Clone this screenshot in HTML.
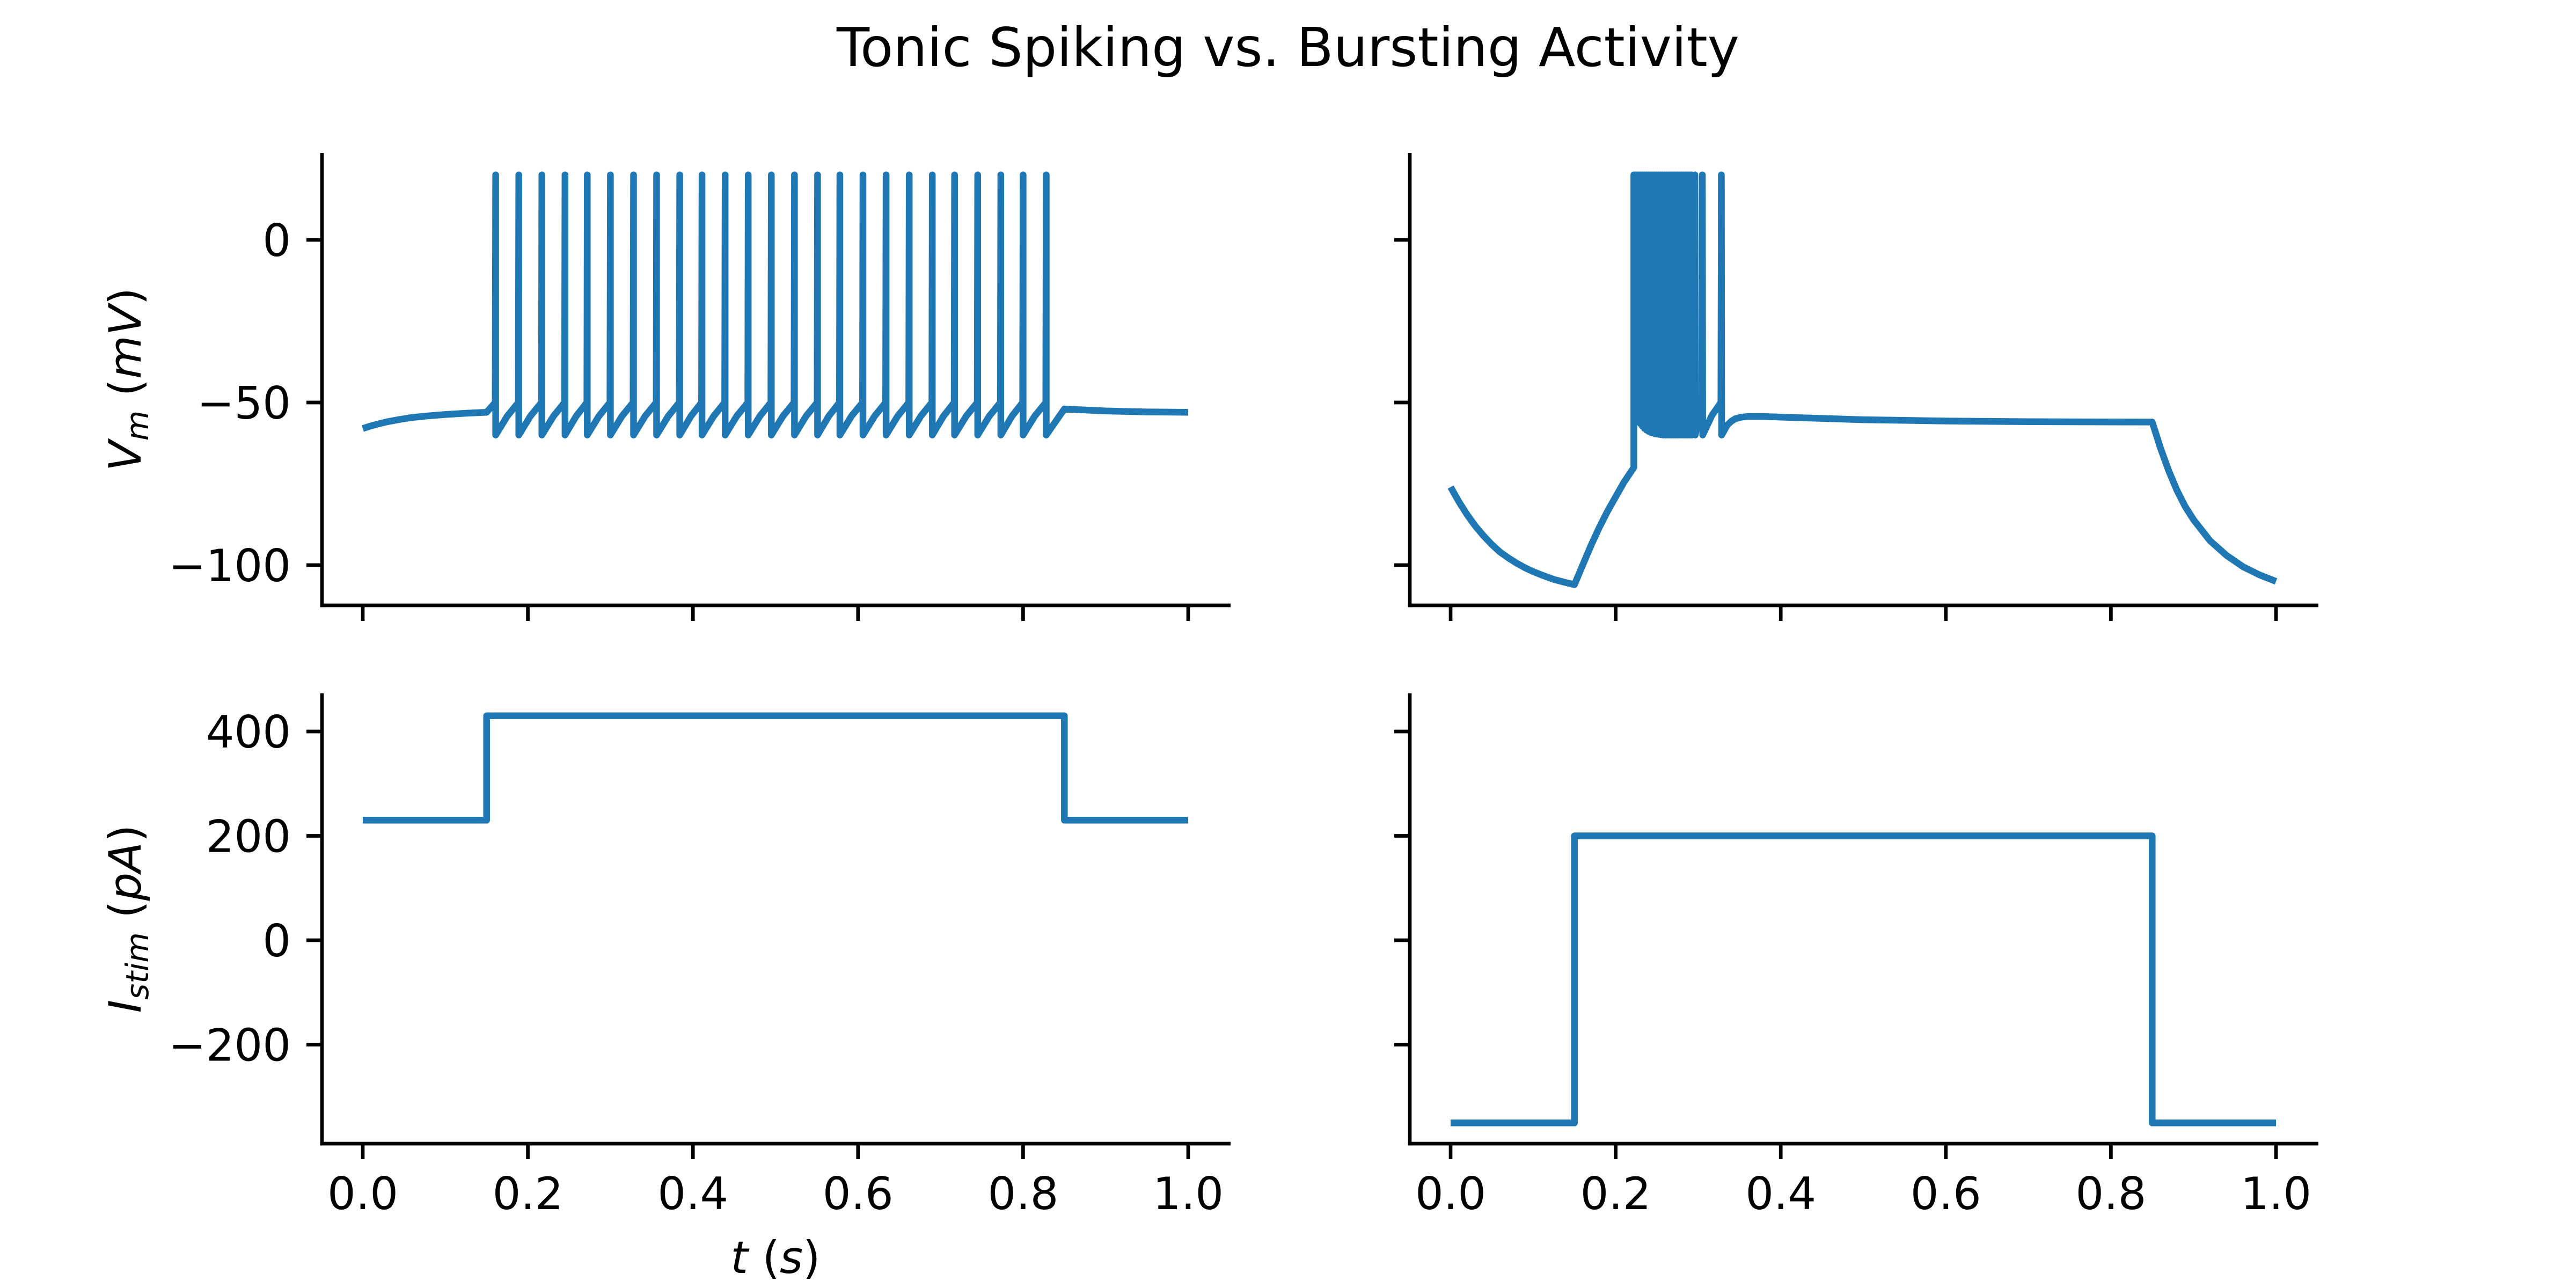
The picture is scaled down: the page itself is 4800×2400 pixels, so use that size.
<!DOCTYPE html>
<html><head><meta charset="utf-8"><style>
html,body{margin:0;padding:0;background:#fff}
svg{display:block}
text{font-family:"DejaVu Sans","Liberation Sans",sans-serif;fill:#000}
</style></head><body>
<svg id="fig" xmlns="http://www.w3.org/2000/svg" width="4800" height="2400" viewBox="0 0 4800 2400">
<rect width="4800" height="2400" fill="#fff"/>
<text x="2400" y="123" font-size="100" text-anchor="middle">Tonic Spiking vs. Bursting Activity</text>
<text transform="translate(262,707) rotate(-90)" font-size="83" text-anchor="middle"><tspan font-style="italic">V</tspan><tspan font-style="italic" font-size="58" dy="14">m</tspan><tspan dy="-14"> (</tspan><tspan font-style="italic">mV</tspan>)</text>
<text transform="translate(262,1712) rotate(-90)" font-size="83" text-anchor="middle"><tspan font-style="italic">I</tspan><tspan font-style="italic" font-size="58" dy="14">stim</tspan><tspan dy="-14"> (</tspan><tspan font-style="italic">pA</tspan>)</text>
<text x="1445" y="2372" font-size="83" text-anchor="middle"><tspan font-style="italic">t</tspan> (<tspan font-style="italic">s</tspan>)</text>
</svg>
<script>
// ---- data ----
const xTicks = [0.0, 0.2, 0.4, 0.6, 0.8, 1.0];
const xTickLabels = ["0.0", "0.2", "0.4", "0.6", "0.8", "1.0"];
const vmTicks = [0, -50, -100];
const vmTickLabels = ["0", "\u221250", "\u2212100"];
const iTicks = [400, 200, 0, -200];
const iTickLabels = ["400", "200", "0", "\u2212200"];
// tonic spiking neuron
const tonicBaseT = [0, 0.01, 0.02, 0.03, 0.045, 0.06, 0.08, 0.1, 0.125, 0.15];
const tonicBaseV = [-58, -57.2, -56.5, -55.9, -55.2, -54.6, -54.1, -53.7, -53.3, -53];
const tonicSpikes = [0.161,0.189,0.217,0.245,0.272,0.300,0.328,0.356,0.384,0.411,0.439,0.467,0.495,0.523,0.551,0.578,0.606,0.634,0.662,0.690,0.717,0.745,0.773,0.800,0.828];
const tonicTailT = [0.85, 0.9, 0.95, 1.0];
const tonicTailV = [-52, -52.6, -52.9, -53];
const spikePeak = 20, spikeReset = -60, spikeThresh = -50;
// bursting neuron
const burstPreT = [0, 0.01, 0.02, 0.03, 0.04, 0.05, 0.06, 0.07, 0.08, 0.09, 0.1, 0.11, 0.125, 0.14, 0.15, 0.155, 0.16, 0.17, 0.18, 0.19, 0.2, 0.21, 0.222];
const burstPreV = [-76, -80.5, -84.5, -88, -91, -93.7, -96, -97.8, -99.4, -100.8, -102, -103, -104.4, -105.4, -106, -103, -100, -94, -88.5, -83.5, -79, -74.5, -70];
const burstSpikes = [0.222,0.2245,0.227,0.2295,0.232,0.2345,0.237,0.2395,0.242,0.2445,0.247,0.2495,0.252,0.2545,0.257,0.2595,0.262,0.2645,0.267,0.2695,0.272,0.2745,0.277,0.2795,0.282,0.2845,0.287,0.2895,0.292,0.296,0.305,0.328];
const burstTroughs = [-52,-54,-55.5,-56.5,-57.3,-58,-58.5,-58.9,-59.2,-59.4,-59.6,-59.7,-59.8,-59.9,-60,-60,-60,-60,-60,-60,-60,-60,-60,-60,-60,-60,-60,-60,-60,-60,-60,-60];
const burstPostT = [0.335, 0.34, 0.345, 0.352, 0.36, 0.38, 0.4, 0.5, 0.6, 0.7, 0.85, 0.86, 0.87, 0.88, 0.89, 0.9, 0.92, 0.94, 0.96, 0.98, 1.0];
const burstPostV = [-57, -55.8, -55, -54.5, -54.3, -54.3, -54.5, -55.3, -55.7, -55.9, -56, -64, -71, -77, -82, -86, -92.5, -97, -100.5, -103, -105];
// stimulus currents
const tonicStimT = [0, 0.15, 0.15, 0.85, 0.85, 1.0];
const tonicStimI = [230, 230, 430, 430, 230, 230];
const burstStimT = [0, 0.15, 0.15, 0.85, 0.85, 1.0];
const burstStimI = [-350, -350, 200, 200, -350, -350];

// ---- layout ----
const NS = "http://www.w3.org/2000/svg";
const fig = document.getElementById("fig");
const cols = [{x0: 600, px0: 676}, {x0: 2627, px0: 2703}];
const pxPerS = 1538;
const rows = [
  {top: 285, bot: 1128, y0: 447, k: 6.06},
  {top: 1292, bot: 2131, y0: 1752, k: 0.9725}
];
const COLOR = "#1f77b4";
function xs(c, t) { return cols[c].px0 + t * pxPerS; }
function ys(r, v) { return rows[r].y0 - v * rows[r].k; }
function mk(tag, attrs, parent) {
  const e = document.createElementNS(NS, tag);
  for (const k in attrs) e.setAttribute(k, attrs[k]);
  (parent || fig).appendChild(e);
  return e;
}

function drawAxes(c, r, name) {
  const g = mk("g", {});
  
  
  const x0 = cols[c].x0, x1 = x0 + 1693, top = rows[r].top, bot = rows[r].bot;
  const ls = mk("line", {x1: x0, y1: top, x2: x0, y2: bot + 3.3, stroke: "#000", "stroke-width": 6.7}, g);
  
  
  const bs = mk("line", {x1: x0 - 3.3, y1: bot, x2: x1, y2: bot, stroke: "#000", "stroke-width": 6.7}, g);
  
  
  xTicks.forEach((t, i) => {
    const x = xs(c, t);
    const tk = mk("line", {x1: x, y1: bot, x2: x, y2: bot + 29, stroke: "#000", "stroke-width": 6.7}, g);
    
    
    if (r === 1) {
      const tl = mk("text", {x: x, y: 2253, "font-size": 83, "text-anchor": "middle"}, g);
      tl.textContent = xTickLabels[i];
      
      
    }
  });
  const yt = r === 0 ? vmTicks : iTicks;
  const yl = r === 0 ? vmTickLabels : iTickLabels;
  yt.forEach((v, i) => {
    const y = ys(r, v);
    const tk = mk("line", {x1: x0 - 29, y1: y, x2: x0, y2: y, stroke: "#000", "stroke-width": 6.7}, g);
    
    
    if (c === 0) {
      const tl = mk("text", {x: x0 - 58, y: y + 30, "font-size": 83, "text-anchor": "end"}, g);
      tl.textContent = yl[i];
      
      
    }
  });
}

function drawLine(c, r, pts, name) {
  const d = pts.map((p, i) => (i ? "L" : "M") + xs(c, p[0]).toFixed(1) + " " + ys(r, p[1]).toFixed(1)).join(" ");
  const p = mk("path", {d: d, fill: "none", stroke: COLOR, "stroke-width": 12.5, "stroke-linejoin": "round", "stroke-linecap": "butt"});
  
  
}

drawAxes(0, 0, "tonic-vm");
drawAxes(1, 0, "burst-vm");
drawAxes(0, 1, "tonic-stim");
drawAxes(1, 1, "burst-stim");

// tonic Vm trace
(function () {
  const pts = tonicBaseT.map((t, i) => [t, tonicBaseV[i]]);
  tonicSpikes.forEach((t, i) => {
    if (i > 0) {
      const tp = tonicSpikes[i - 1];
      const dt = t - tp;
      pts.push([tp + dt * 0.5, -54.2]);
    }
    pts.push([t - 0.0005, spikeThresh]);
    pts.push([t, spikePeak]);
    pts.push([t, spikeReset]);
  });
  pts.push([0.85, tonicTailV[0]]);
  tonicTailT.slice(1).forEach((t, i) => pts.push([t, tonicTailV[i + 1]]));
  drawLine(0, 0, pts, "tonic-vm-trace");
})();

// bursting Vm trace
(function () {
  const pts = burstPreT.map((t, i) => [t, burstPreV[i]]);
  burstSpikes.forEach((t, i) => {
    if (i > 0) {
      const tp = burstSpikes[i - 1];
      if (t - tp > 0.005) pts.push([tp + (t - tp) * 0.5, -54], [t - 0.0005, spikeThresh]);
    }
    pts.push([t, spikePeak]);
    pts.push([t + 0.0004, burstTroughs[i]]);
  });
  burstPostT.forEach((t, i) => pts.push([t, burstPostV[i]]));
  drawLine(1, 0, pts, "burst-vm-trace");
})();

drawLine(0, 1, tonicStimT.map((t, i) => [t, tonicStimI[i]]), "tonic-stim-trace");
drawLine(1, 1, burstStimT.map((t, i) => [t, burstStimI[i]]), "burst-stim-trace");
</script>
</body></html>
